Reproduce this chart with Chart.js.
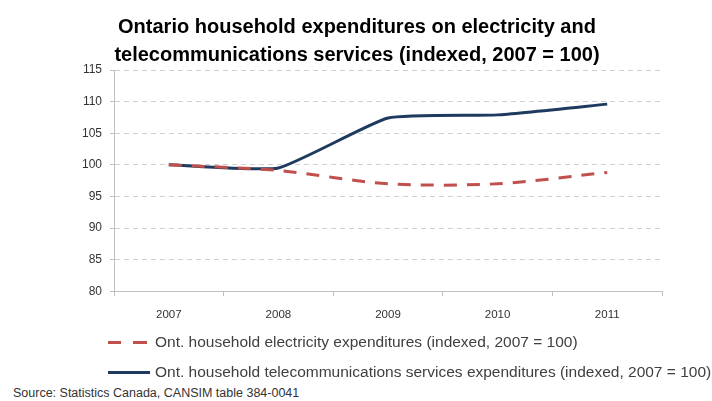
<!DOCTYPE html>
<html lang="en">
<head>
    <meta charset="UTF-8">
    <title>Ontario household expenditures</title>
    <script src="https://cdn.jsdelivr.net/npm/chart.js"></script>
    <style>
        body { margin: 0; background: #fff; font-family: "Liberation Sans", Arial, sans-serif; }
        .wrap { position: relative; width: 712px; height: 401px; overflow: hidden; }
        .titulo { position: absolute; left: 0; width: 714px; top: 12px; text-align: center; font-weight: bold; font-size: 20px; line-height: 28px; color: #000; }
        .grafico { position: absolute; left: 0; top: 0; width: 712px; height: 334px; }
        .leg { position: absolute; left: 108px; font-size: 15.5px; color: #404040; white-space: nowrap; }
        .leg span.sym { display: inline-block; height: 3px; vertical-align: middle; }
        .fonte { position: absolute; left: 13px; top: 386px; font-size: 12.5px; color: #333; white-space: nowrap; }
    </style>
</head>
<body>
<div class="wrap">
    <div class="grafico"><canvas id="myChart"></canvas></div>
    <div class="titulo" id="titulo"></div>
    <div class="leg" style="top:333px"><span class="sym" style="width:13px;background:#c0504d;margin-right:12px"></span><span class="sym" style="width:14px;background:#c0504d;margin-right:8px"></span>Ont. household electricity expenditures (indexed, 2007 = 100)</div>
    <div class="leg" style="top:363px"><span class="sym" style="width:42px;background:#1f3a5f;margin-right:5px"></span>Ont. household telecommunications services expenditures (indexed, 2007 = 100)</div>
    <div class="fonte">Source: Statistics Canada, CANSIM table 384-0041</div>
</div>
<script>
    // anos e indices
    const anos = ["2007", "2008", "2009", "2010", "2011"];
    const eletricidade = [100, 99.1, 97.0, 97.0, 98.8];
    const telecom = [100, 99.5, 107.4, 107.9, 109.6];
    const tituloLinhas = ["Ontario household expenditures on electricity and", "telecommunications services (indexed, 2007 = 100)"];

    document.getElementById('titulo').innerHTML = tituloLinhas.join("<br>");

    const ctx = document.getElementById('myChart');
    const chartInstance = new Chart(ctx, {
        type: "line",
        data: {
            labels: anos,
            datasets: [
                {
                    label: "Ont. household electricity expenditures (indexed, 2007 = 100)",
                    data: eletricidade,
                    borderColor: "#c0504d",
                    borderWidth: 3,
                    borderDash: [13, 10],
                    pointRadius: 0,
                    tension: 0.3,
                    fill: false,
                },
                {
                    label: "Ont. household telecommunications services expenditures (indexed, 2007 = 100)",
                    data: telecom,
                    borderColor: "#1f3a5f",
                    borderWidth: 3,
                    pointRadius: 0,
                    tension: 0.15,
                    fill: false,
                },
            ],
        },
        options: {
            responsive: true,
            maintainAspectRatio: false,
            animation: false,
            layout: { padding: { left: 74, right: 50, top: 70, bottom: 0 } },
            plugins: {
                legend: { display: false },
                tooltip: { enabled: false },
            },
            scales: {
                x: {
                    offset: true,
                    grid: { display: true, drawOnChartArea: false, offset: true, tickLength: 5, color: "#bfbfbf" },
                    border: { color: "#bfbfbf", width: 1 },
                    ticks: { color: "#333", font: { family: "Liberation Sans", size: 11.5 }, padding: 12 },
                },
                y: {
                    min: 80,
                    max: 115,
                    ticks: { stepSize: 5, color: "#333", font: { family: "Liberation Sans", size: 12 }, padding: 8 },
                    grid: { color: "#d0d0d0", tickLength: 4, tickColor: "#bfbfbf" },
                    border: { color: "#bfbfbf", width: 1, dash: [5, 4] },
                },
            },
        },
    });
</script>
</body>
</html>
